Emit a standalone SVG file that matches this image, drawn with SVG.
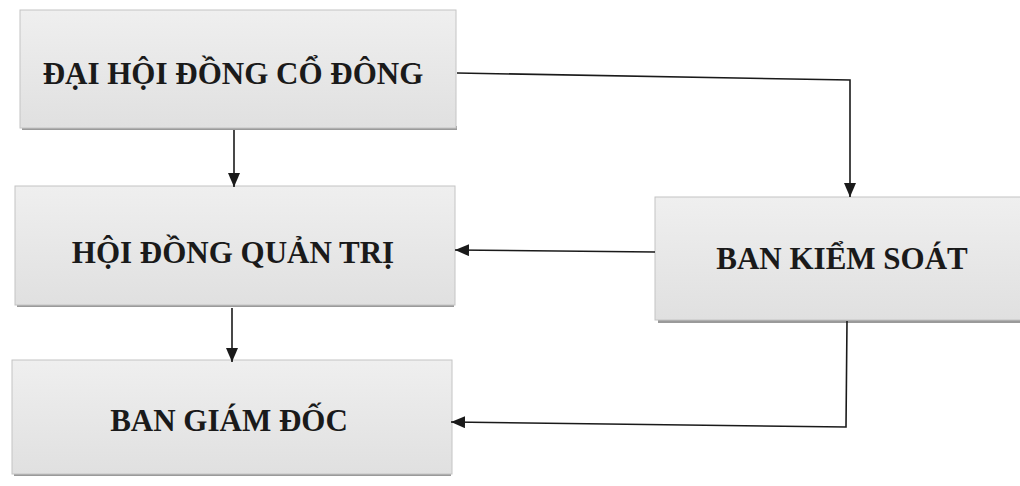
<svg xmlns="http://www.w3.org/2000/svg" width="1020" height="486" viewBox="0 0 1020 486">
<defs>
<linearGradient id="g" x1="0" y1="0" x2="0" y2="1">
<stop offset="0" stop-color="#efefef"/>
<stop offset="1" stop-color="#e0e0e0"/>
</linearGradient>
<marker id="ah" markerWidth="14" markerHeight="12" refX="14" refY="6" orient="auto" markerUnits="userSpaceOnUse">
<path d="M0,0 L14,6 L0,12 Z" fill="#1a1a1a"/>
</marker>
<style>
.box{fill:url(#g);stroke:#c4c4c4;stroke-width:1}
.sh{fill:#9a9a9a}
.t{font-family:"Liberation Serif","Times New Roman",serif;font-weight:bold;font-size:31px;fill:#1a1a1a;text-anchor:middle}
.c{fill:none;stroke:#1a1a1a;stroke-width:1.6;marker-end:url(#ah)}
</style>
</defs>
<rect width="1020" height="486" fill="#ffffff"/>
<g id="n1">
<rect class="sh" x="22" y="126" width="435" height="4"/>
<rect class="box" x="20" y="10" width="436" height="118"/>
<text class="t" x="233" y="84">ĐẠI HỘI ĐỒNG CỔ ĐÔNG</text>
</g>
<g id="n2">
<rect class="sh" x="17" y="303" width="437" height="4"/>
<rect class="box" x="15" y="186" width="440" height="119"/>
<text class="t" x="233" y="263">HỘI ĐỒNG QUẢN TRỊ</text>
</g>
<g id="n3">
<rect class="sh" x="14" y="472" width="437" height="4"/>
<rect class="box" x="12" y="360" width="440" height="114"/>
<text class="t" x="229" y="431">BAN GIÁM ĐỐC</text>
</g>
<g id="n4">
<rect class="sh" x="658" y="318" width="362" height="5"/>
<rect class="box" x="655" y="197" width="370" height="123"/>
<text class="t" x="842" y="269">BAN KIỂM SOÁT</text>
</g>
<g id="connectors">
<path class="c" d="M457,73 L850,80 L850,197"/>
<path class="c" d="M234,130 L234,187"/>
<path class="c" d="M232,308 L232,362"/>
<path class="c" d="M655,252 L455,250"/>
<path class="c" d="M847,321 L846,427 L451,422"/>
</g>
</svg>
